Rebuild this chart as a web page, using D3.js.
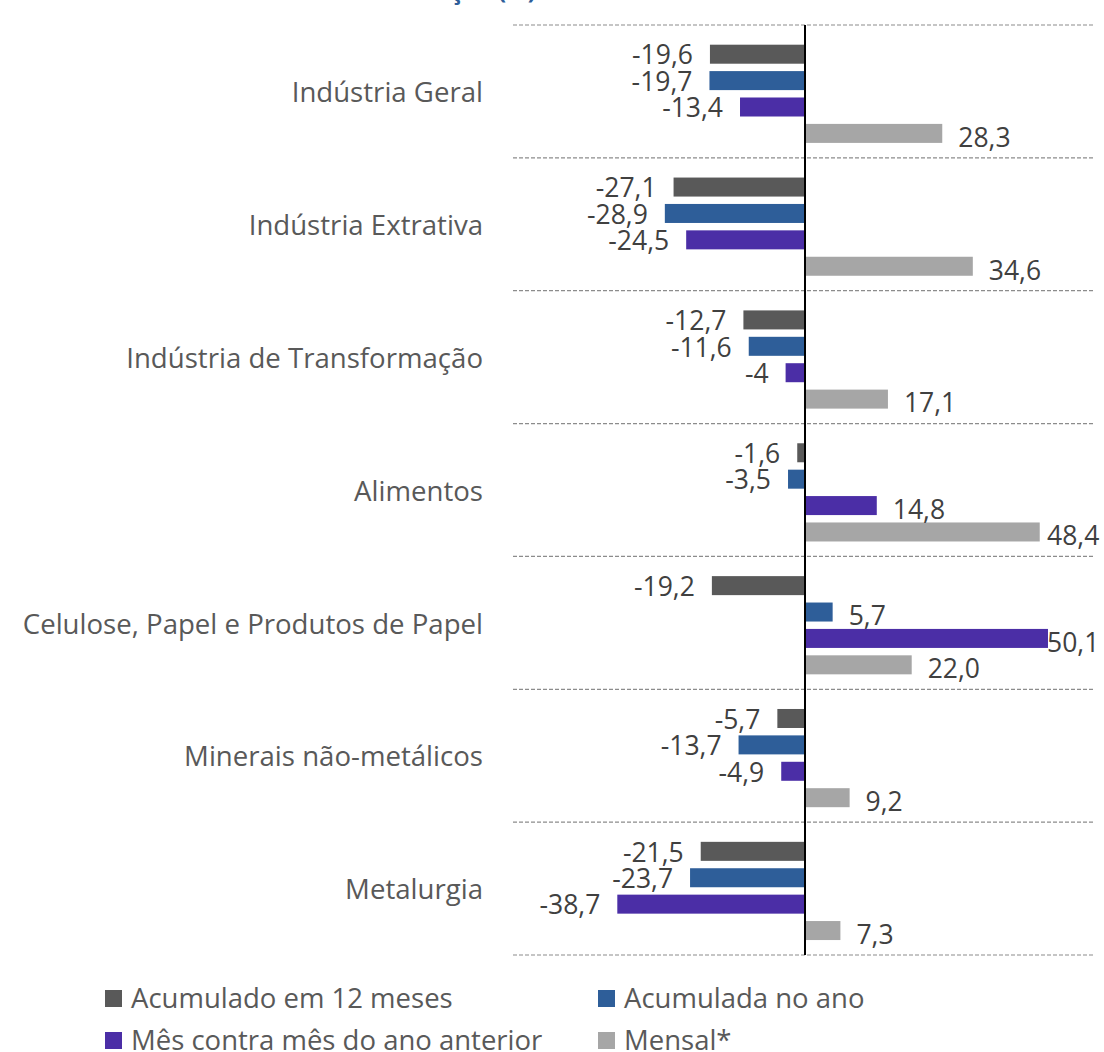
<!DOCTYPE html>
<html>
<head>
<meta charset="utf-8">
<script src="https://cdn.jsdelivr.net/npm/d3@7"></script>
<style>
    body { margin: 0; background: #fff; }
    svg { display: block; font-family: "Open Sans", "Noto Sans", sans-serif; }
    .cat-label { fill: #595959; font-size: 27.6px; }
    .val-label { fill: #404040; font-size: 26.5px; }
    .legend-label { fill: #595959; font-size: 27.5px; }
    .title { fill: #2E5E99; font-size: 24px; font-weight: bold; }
</style>
</head>
<body>
<div id="chart"></div>
<script>
"use strict"

// categories and series (variação %)
const categories = [
    'Indústria Geral',
    'Indústria Extrativa',
    'Indústria de Transformação',
    'Alimentos',
    'Celulose, Papel e Produtos de Papel',
    'Minerais não-metálicos',
    'Metalurgia'
]
const seriesNames = ['Acumulado em 12 meses', 'Acumulada no ano', 'Mês contra mês do ano anterior', 'Mensal*']
const acumulado12m = [-19.6, -27.1, -12.7, -1.6, -19.2, -5.7, -21.5]
const acumuladaAno = [-19.7, -28.9, -11.6, -3.5, 5.7, -13.7, -23.7]
const mesContraMes = [-13.4, -24.5, -4, 14.8, 50.1, -4.9, -38.7]
const mensal = [28.3, 34.6, 17.1, 48.4, 22.0, 9.2, 7.3]
const colors = ['#595959', '#2E5E99', '#4B2EA6', '#A6A6A6']

const chart = (function() {
    const w = 1104, h = 1052
    const frame = { l: 513, r: 1095, t: 25, b: 955 }
    const values = [acumulado12m, acumuladaAno, mesContraMes, mensal]

    const rows = []
    categories.forEach((c, i) => {
        seriesNames.forEach((s, j) => rows.push({ cat: c, series: s, idx: j, value: values[j][i] }))
    })

    const scales = {
        x: d3.scaleLinear().domain([-60, 60]).range([805 - 60 * 4.85, 805 + 60 * 4.85]),
        y: d3.scaleBand().domain(categories).range([frame.t, frame.b]).padding(0),
    }
    scales.inner = d3.scaleBand().domain(seriesNames)
        .range([16, 16 + 26.4 * 4])
        .paddingInner(0.28).paddingOuter(0.14)

    // excel keeps "-4" bare, others one decimal
    const fmt = v => {
        const s = Number.isInteger(v) && v !== 22 ? String(v) : v.toFixed(1)
        return s.replace('.', ',')
    }

    const svg = d3.select('#chart').append('svg')
        .attr('width', w).attr('height', h)
        .attr('viewBox', `0 0 ${ w } ${ h }`)

    // clipped title (only descenders visible)
    svg.append('text')
        .attr('class', 'title')
        .attr('text-anchor', 'end')
        .attr('x', 536).attr('y', -1)
        .text('Variação (%)')

    // dashed separators
    const seps = categories.map(c => scales.y(c)).concat([frame.b])
    svg.selectAll('.sep')
        .data(seps)
        .enter().append('line')
            .attr('class', 'sep')
            .attr('x1', frame.l).attr('x2', frame.r)
            .attr('y1', d => d).attr('y2', d => d)
            .attr('stroke', '#8c8c8c')
            .attr('stroke-width', 1.2)
            .attr('stroke-dasharray', '4,2')

    // category labels
    svg.selectAll('.cat-label')
        .data(categories)
        .enter().append('text')
            .attr('class', 'cat-label')
            .attr('text-anchor', 'end')
            .attr('x', 483)
            .attr('y', d => scales.y(d) + scales.y.bandwidth() / 2 + 1)
            .attr('dy', '0.35em')
            .text(d => d)

    // bars
    const barY = d => scales.y(d.cat) + scales.inner(d.series)
    svg.selectAll('.bar')
        .data(rows)
        .enter().append('rect')
            .attr('class', 'bar')
            .attr('x', d => scales.x(Math.min(0, d.value)))
            .attr('width', d => Math.abs(scales.x(d.value) - scales.x(0)))
            .attr('y', barY)
            .attr('height', scales.inner.bandwidth())
            .attr('fill', d => colors[d.idx])

    // value labels
    svg.selectAll('.val-label')
        .data(rows)
        .enter().append('text')
            .attr('class', 'val-label')
            .attr('text-anchor', d => d.value < 0 ? 'end' : 'start')
            .attr('x', d => d.value < 0
                ? scales.x(d.value) - 17
                : Math.min(scales.x(d.value) + 16, 1047))
            .attr('y', d => barY(d) + scales.inner.bandwidth() / 2 + (d.value < 0 ? 1 : 4))
            .attr('dy', '0.35em')
            .text(d => fmt(d.value))

    // zero axis
    svg.append('line')
        .attr('x1', scales.x(0)).attr('x2', scales.x(0))
        .attr('y1', frame.t).attr('y2', frame.b)
        .attr('stroke', '#000')
        .attr('stroke-width', 2)

    // legend
    const legendPos = [[105, 998], [598, 998], [105, 1040], [598, 1040]]
    const legend = svg.selectAll('.legend')
        .data(seriesNames)
        .enter().append('g')
            .attr('class', 'legend')
            .attr('transform', (d, i) => `translate(${ legendPos[i][0] }, ${ legendPos[i][1] })`)
    legend.append('rect')
        .attr('x', 0).attr('y', -8)
        .attr('width', 17).attr('height', 17)
        .attr('fill', (d, i) => colors[i])
    legend.append('text')
        .attr('class', 'legend-label')
        .attr('x', 26)
        .attr('dy', '0.35em')
        .text(d => d)
})()
</script>
</body>
</html>
